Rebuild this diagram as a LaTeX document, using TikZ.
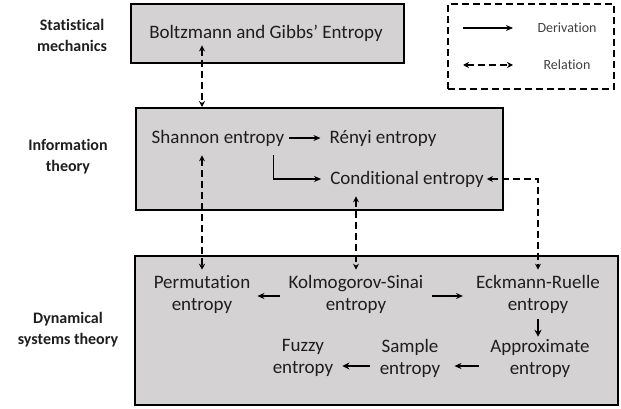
\documentclass[tikz,border=0pt]{standalone}
\usepackage{fontspec}
\setmainfont{Carlito}[Ligatures={NoCommon}]
\usetikzlibrary{arrows.meta,calc}
\definecolor{boxgray}{RGB}{212,210,210}
\definecolor{ink}{RGB}{30,30,30}
\begin{document}
\begin{tikzpicture}[x=1pt,y=-1pt,
 panel/.style={draw=black,line width=1.8pt,fill=boxgray,anchor=north west,inner sep=0},
 lbl/.style={font=\fontsize{16}{21}\selectfont\bfseries,align=center,text=ink},
 ent/.style={font=\fontsize{19}{22}\selectfont,align=center,inner sep=1pt,text=ink},
 legtxt/.style={font=\fontsize{14}{16}\selectfont,text=ink!85},
 der/.style={-{Stealth[length=7pt,width=6pt]},line width=1.1pt},
 derb/.style={-{Stealth[length=7pt,width=7pt]},line width=2pt},
 rel/.style={{Stealth[length=6pt,width=6pt]}-{Stealth[length=6pt,width=6pt]},line width=1.6pt,dash pattern=on 7pt off 4pt},
]
\useasboundingbox (0,0) rectangle (621,409);
% panels
\node[panel,minimum width=273pt,minimum height=59pt] (smbox) at (130,3) {};
\node[panel,minimum width=367pt,minimum height=102pt] (itbox) at (135,107) {};
\node[panel,minimum width=483pt,minimum height=149pt] (dsbox) at (134,255) {};
\node[draw=black,line width=1.8pt,dash pattern=on 7pt off 4pt,anchor=north west,inner sep=0,minimum width=166pt,minimum height=85pt] (legend) at (447,3) {};
% side labels
\node[lbl] (sm) at (72,35) {Statistical\\mechanics};
\node[lbl] (it) at (68,157) {Information\\theory};
\node[lbl] (ds) at (68,330) {Dynamical\\systems theory};
% legend
\coordinate (la1) at (463,28);
\coordinate (la2) at (513,28);
\coordinate (lb1) at (463,65);
\coordinate (lb2) at (513,65);
\node[legtxt] (dl) at (567,28) {Derivation};
\node[legtxt] (rl) at (567,65) {Relation};
\draw[der] (la1) -- (la2);
\draw[rel] (lb1) -- (lb2);
% entropies
\node[ent] (boltz) at (266,33) {Boltzmann and Gibbs’ Entropy};
\node[ent] (shannon) at (218,138) {Shannon entropy};
\node[ent] (renyi) at (383,138) {Rényi entropy};
\node[ent] (cond) at (407,179) {Conditional entropy};
\node[ent] (perm) at (202,294) {Permutation\\entropy};
\node[ent] (ks) at (356,294) {Kolmogorov-Sinai\\entropy};
\node[ent] (eck) at (538,294) {Eckmann-Ruelle\\entropy};
\node[ent] (approx) at (540,358) {Approximate\\entropy};
\node[ent] (sample) at (410,358) {Sample\\entropy};
\node[ent] (fuzzy) at (303,358) {Fuzzy\\entropy};
% derivations
\draw[der,shorten <=4pt,shorten >=8pt] (shannon.east) -- (renyi.west);
\draw[der,shorten >=8pt] ($(shannon.south east)+(-12,8)$) |- (cond.west);
\draw[der,shorten <=7pt,shorten >=6pt] ([yshift=-2pt]ks.west) -- ([yshift=-2pt]perm.east);
\draw[der,shorten <=7pt,shorten >=12pt] ([yshift=-2pt]ks.east) -- ([yshift=-2pt]eck.west);
\draw[derb,shorten <=5pt,shorten >=1pt] (eck.south) -- (eck.south |- approx.north);
\draw[der,shorten <=10pt,shorten >=13pt] ([yshift=-8pt]approx.west) -- ([yshift=-8pt]sample.east);
\draw[derb,shorten <=9pt,shorten >=8pt] ([yshift=-8pt]sample.west) -- ([yshift=-8pt]fuzzy.east);
% relations
\draw[rel,shorten <=3pt] (boltz.south -| perm.north) -- (perm.north |- itbox.north);
\draw[rel,shorten <=8pt,shorten >=4pt] (shannon.south -| perm.north) -- (perm.north);
\draw[rel,shorten <=8pt,shorten >=4pt] (cond.south -| ks.north) -- (ks.north);
\draw[rel,shorten <=2pt,shorten >=4pt] (cond.east) -| (eck.north);
\end{tikzpicture}
\end{document}
